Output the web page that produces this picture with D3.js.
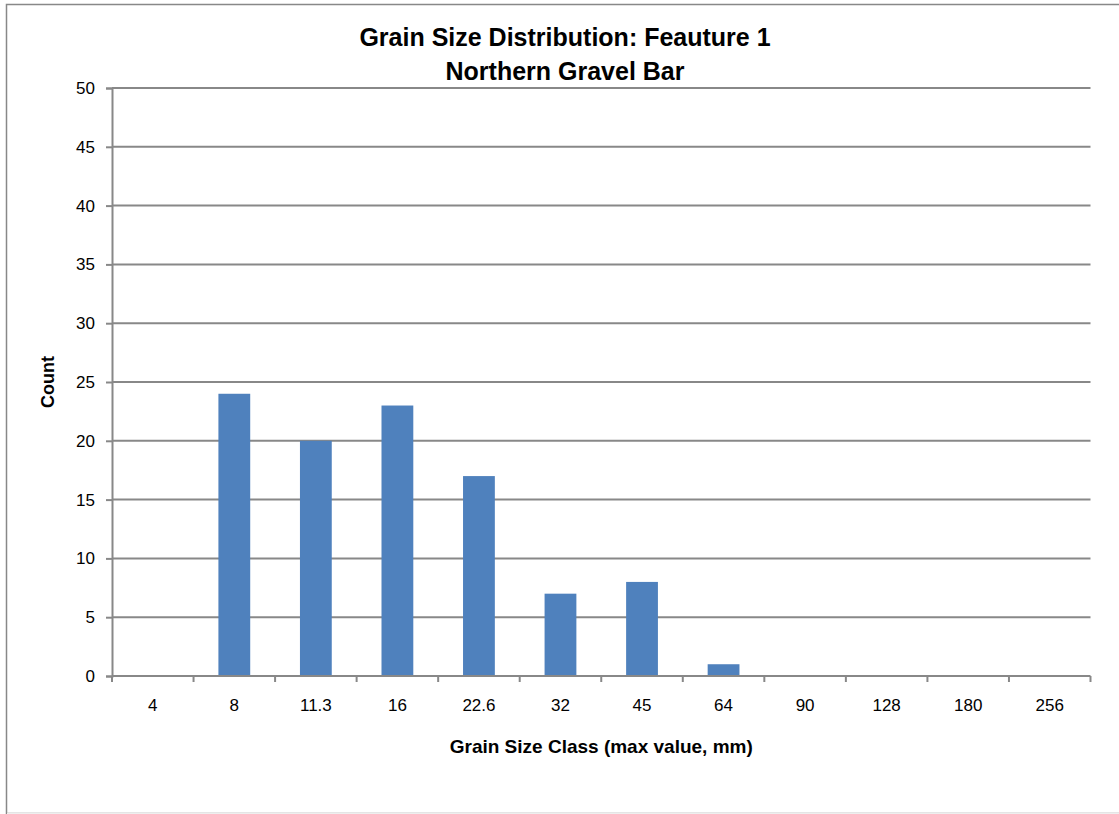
<!DOCTYPE html>
<html><head><meta charset="utf-8">
<script src="https://cdn.jsdelivr.net/npm/d3@7"></script>
<style>body{margin:0;background:#fff}svg{display:block;font-family:"Liberation Sans",Arial,sans-serif}</style>
</head><body><svg id="c" width="1119" height="814"></svg>
<script>
const categories = ["4","8","11.3","16","22.6","32","45","64","90","128","180","256"];
const counts = [0,24,20,23,17,7,8,1,0,0,0,0];
const yTicks = [0,5,10,15,20,25,30,35,40,45,50];
const titleLines = ["Grain Size Distribution: Feauture 1","Northern Gravel Bar"];
const xTitle = "Grain Size Class (max value, mm)";
const yTitle = "Count";

const svg = d3.select("#c");
const L=112,R=1090.5,T=88,B=676;
svg.append("rect").attr("x",6.5).attr("y",4.5).attr("width",1140).attr("height",809)
  .attr("fill","#fff").attr("stroke","#888").attr("stroke-width",1.5);
svg.append("line").attr("x1",7).attr("x2",1119).attr("y1",813.5).attr("y2",813.5)
  .attr("stroke","#eee").attr("stroke-width",1.5);

const x = d3.scaleBand().domain(categories).range([L,R]).paddingInner(0.61).paddingOuter(0.305);
const y = d3.scaleLinear().domain([0,50]).range([B,T]);

// gridlines
svg.append("g").selectAll("line").data(yTicks.filter(d=>d>0)).join("line")
  .attr("x1",L).attr("x2",R).attr("y1",d=>y(d)).attr("y2",d=>y(d))
  .attr("stroke","#888").attr("stroke-width",2);

// bars
svg.append("g").selectAll("rect").data(counts).join("rect")
  .attr("x",(d,i)=>x(categories[i])).attr("width",x.bandwidth())
  .attr("y",d=>y(d)).attr("height",d=>B-y(d)).attr("fill","#4F81BD");

// y axis
const ya = svg.append("g").attr("transform",`translate(${L},0)`)
  .call(d3.axisLeft(y).tickValues(yTicks).tickSize(6).tickPadding(11));
ya.attr("font-size",17).attr("font-family",null);
ya.select(".domain").attr("stroke","#888").attr("stroke-width",2);
ya.selectAll(".tick line").attr("stroke","#888").attr("stroke-width",2);
ya.selectAll("text").attr("fill","#000");

// x axis
const xa = svg.append("g").attr("transform",`translate(0,${B})`)
  .call(d3.axisBottom(x).tickSize(0).tickPadding(23));
xa.attr("font-size",17).attr("font-family",null);
xa.select(".domain").attr("stroke","#888").attr("stroke-width",2).attr("d",`M${L},0H${R}`);
xa.selectAll("text").attr("fill","#000");
const bounds = d3.range(categories.length+1).map(i=>L + i*(R-L)/categories.length);
svg.append("g").selectAll("line").data(bounds).join("line")
  .attr("x1",d=>d).attr("x2",d=>d).attr("y1",B).attr("y2",B+6)
  .attr("stroke","#888").attr("stroke-width",2);

// titles
svg.append("g").selectAll("text").data(titleLines).join("text")
  .attr("x",565).attr("y",(d,i)=>46+i*34).attr("text-anchor","middle")
  .attr("font-size",25).attr("font-weight","bold").attr("fill","#000").text(d=>d);
svg.append("text").attr("x",(L+R)/2).attr("y",753).attr("text-anchor","middle")
  .attr("font-size",19).attr("font-weight","bold").text(xTitle);
svg.append("text").attr("transform",`translate(54,382) rotate(-90)`).attr("text-anchor","middle")
  .attr("font-size",18).attr("font-weight","bold").text(yTitle);
</script></body></html>
